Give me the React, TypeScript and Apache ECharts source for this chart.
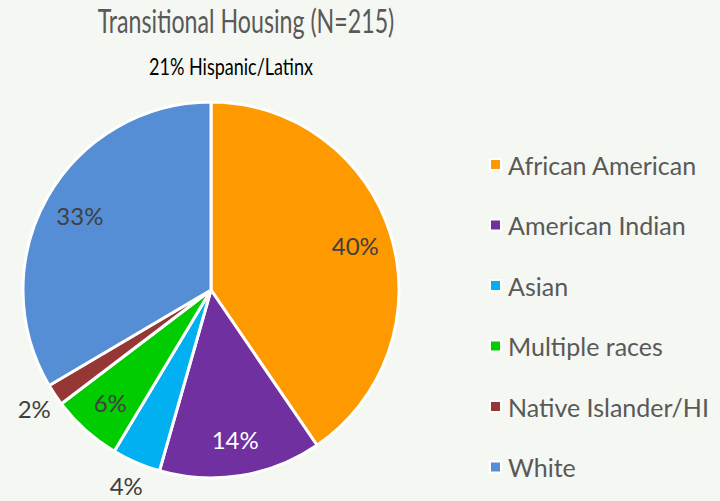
import React, { useEffect, useRef } from "react";
import * as echarts from "echarts";

const categories = ["African American", "American Indian", "Asian", "Multiple races", "Native Islander/HI", "White"];
const counts = [87, 30, 9, 13, 4, 72];
const colors = ["#ff9900", "#7030a0", "#00b0f0", "#00cc00", "#953735", "#558ed5"];
const outsideLabels = ["Asian", "Native Islander/HI"];
const whiteLabels = ["American Indian"];
const titleText = "Transitional Housing (N=215)";
const subtitleText = "21% Hispanic/Latinx";

const FONT = "Lato, 'Open Sans', sans-serif";
const BG = "#f5f7f2";

export default function App() {
  const ref = useRef<HTMLDivElement>(null);
  useEffect(() => {
    if (!ref.current) return;
    const chart = echarts.init(ref.current, undefined, { renderer: "svg" });
    const fmt = (p: any) => Math.round(p.percent) + "%";
    const center = [211, 290];
    const pieData = categories.map((name, i) => ({
      name,
      value: counts[i],
      itemStyle: { color: colors[i] },
    }));
    const innerLabelData = categories.map((name, i) => ({
      name,
      value: counts[i],
      label: {
        show: !outsideLabels.includes(name),
        color: whiteLabels.includes(name) ? "#ffffff" : "#404040",
      },
    }));
    const outerLabelData = categories.map((name, i) => ({
      name,
      value: counts[i],
      label: { show: outsideLabels.includes(name), color: "#404040" },
    }));
    chart.setOption({
      animation: false,
      backgroundColor: BG,
      graphic: [
        {
          type: "text",
          x: 246,
          y: 20,
          scaleX: 0.725,
          style: {
            text: titleText,
            font: "normal 32px " + FONT,
            fill: "#595959",
            align: "center",
            verticalAlign: "middle",
          },
        },
        {
          type: "text",
          x: 231,
          y: 66,
          scaleX: 0.75,
          style: {
            text: subtitleText,
            font: "normal 24px " + FONT,
            fill: "#000000",
            align: "center",
            verticalAlign: "middle",
          },
        },
      ],
      legend: {
        orient: "vertical",
        left: 484,
        top: 147,
        icon: "rect",
        itemWidth: 11,
        itemHeight: 11,
        itemGap: 35.5,
        data: categories.map((name, i) => ({
          name,
          itemStyle: { color: colors[i], borderColor: "#ffffff", borderWidth: 2 },
        })),
        textStyle: { fontFamily: FONT, fontSize: 25, color: "#595959", lineHeight: 24, padding: [0, 0, 0, 2] },
        selectedMode: false,
      },
      series: [
        {
          type: "pie",
          center,
          radius: 188,
          startAngle: 90,
          clockwise: true,
          label: { show: false },
          labelLine: { show: false },
          itemStyle: { borderColor: "#ffffff", borderWidth: 3 },
          emphasis: { disabled: true },
          data: pieData,
        },
        {
          type: "pie",
          center,
          radius: [112, 184],
          startAngle: 90,
          clockwise: true,
          silent: true,
          itemStyle: { color: "rgba(0,0,0,0)" },
          label: { position: "inside", formatter: fmt, fontFamily: FONT, fontSize: 24 },
          labelLine: { show: false },
          emphasis: { disabled: true },
          data: innerLabelData,
        },
        {
          type: "pie",
          center,
          radius: [186, 234],
          startAngle: 90,
          clockwise: true,
          silent: true,
          itemStyle: { color: "rgba(0,0,0,0)" },
          label: { position: "inside", formatter: fmt, fontFamily: FONT, fontSize: 24 },
          labelLine: { show: false },
          emphasis: { disabled: true },
          data: outerLabelData,
        },
      ],
    });
    return () => chart.dispose();
  }, []);
  return (
    <div
      ref={ref}
      style={{ position: "fixed", left: 0, top: 0, width: 720, height: 501, background: BG }}
    />
  );
}
